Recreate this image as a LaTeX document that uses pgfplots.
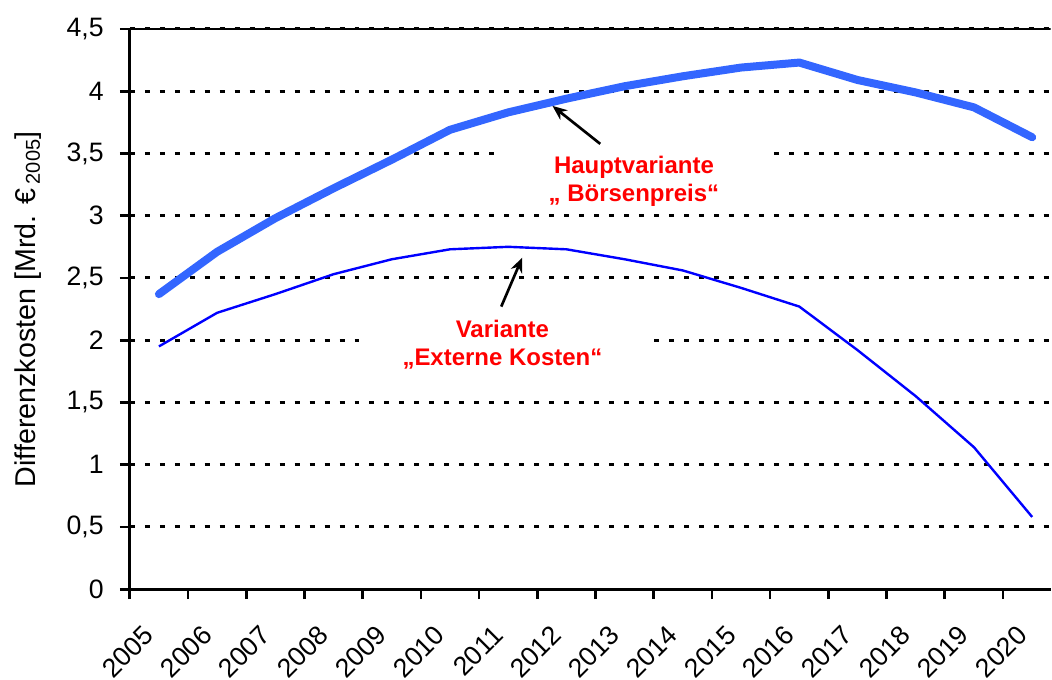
\documentclass[border=0pt]{standalone}
\usepackage{fontspec}
\setmainfont{Liberation Sans}
\usepackage{pgfplots}
\pgfplotsset{compat=1.18}
\usetikzlibrary{arrows.meta}
\definecolor{hauptblau}{RGB}{51,102,255}
\definecolor{externblau}{RGB}{0,0,255}
\definecolor{labelrot}{RGB}{255,0,0}

\begin{document}
\begin{tikzpicture}
\begin{axis}[
  scale only axis,
  width=691.5pt, height=420.75pt,
  xmin=2005, xmax=2020.815,
  ymin=0, ymax=4.5,
  axis x line*=bottom, axis y line*=left,
  axis line style={line width=2pt, -},
  xtick={2005,...,2020},
  ytick={0,0.5,...,4.5},
  tick align=outside,
  major tick length=7.5pt,
  tick style={line width=2pt, black},
  ymajorgrids,
  grid style={black, line width=2.2pt, dash pattern=on 3.75pt off 7.5pt},
  /pgf/number format/.cd, use comma, 1000 sep={}, assume math mode=true,
  /pgfplots/.cd,
  ticklabel style={font=\fontsize{20}{24}\selectfont},
  xticklabel style={xshift=14.5pt, yshift=-23.5pt, rotate=45, anchor=east, inner sep=0pt},
  yticklabel style={inner sep=0pt, xshift=-12pt},
  ylabel={Differenzkosten [Mrd. €\,\textsubscript{2005}]},
  ylabel style={font=\fontsize{21.5}{25}\selectfont, at={(axis description cs:-0.1106,0.5)}, anchor=center},
]
% Hauptvariante "Börsenpreis"
\addplot[hauptblau, line width=6pt, line cap=round, line join=round] coordinates {
  (2005.5,2.37) (2006.5,2.71) (2007.5,2.98) (2008.5,3.22) (2009.5,3.45)
  (2010.5,3.69) (2011.5,3.83) (2012.5,3.94) (2013.5,4.04) (2014.5,4.12)
  (2015.5,4.19) (2016.5,4.23) (2017.5,4.09) (2018.5,3.99) (2019.5,3.87)
  (2020.5,3.63)};
% Variante "Externe Kosten"
\addplot[externblau, line width=1.8pt, line join=round] coordinates {
  (2005.5,1.95) (2006.5,2.22) (2007.5,2.37) (2008.5,2.53) (2009.5,2.65)
  (2010.5,2.73) (2011.5,2.75) (2012.5,2.73) (2013.5,2.65) (2014.5,2.56)
  (2015.5,2.42) (2016.5,2.27) (2017.5,1.92) (2018.5,1.55) (2019.5,1.14)
  (2020.5,0.58)};
\draw[line width=2pt] (axis cs:2005,4.5) -- (axis cs:2020.815,4.5);
\node[fill=white, text=labelrot, align=center, inner xsep=40pt, inner ysep=5pt,
  font=\bfseries\fontsize{18}{21}\selectfont] at (axis cs:2013.66,3.28)
  {Hauptvariante\\„ Börsenpreis“};
\node[fill=white, text=labelrot, align=center, inner xsep=31pt, inner ysep=5pt,
  font=\bfseries\fontsize{18}{21}\selectfont] at (axis cs:2011.40,1.965)
  {Variante\\„Externe Kosten“};
\draw[line width=2pt, -{Stealth[length=11pt, width=9pt]}]
  (axis cs:2013.08,3.577) -- (axis cs:2012.26,3.882);
\draw[line width=2pt, -{Stealth[length=11pt, width=9pt]}]
  (axis cs:2011.38,2.27) -- (axis cs:2011.74,2.663);
\end{axis}
\path ([xshift=-97.5pt, yshift=-67.5pt]current axis.south west)
  rectangle ([yshift=21.75pt]current axis.north east);
\end{tikzpicture}
\end{document}
